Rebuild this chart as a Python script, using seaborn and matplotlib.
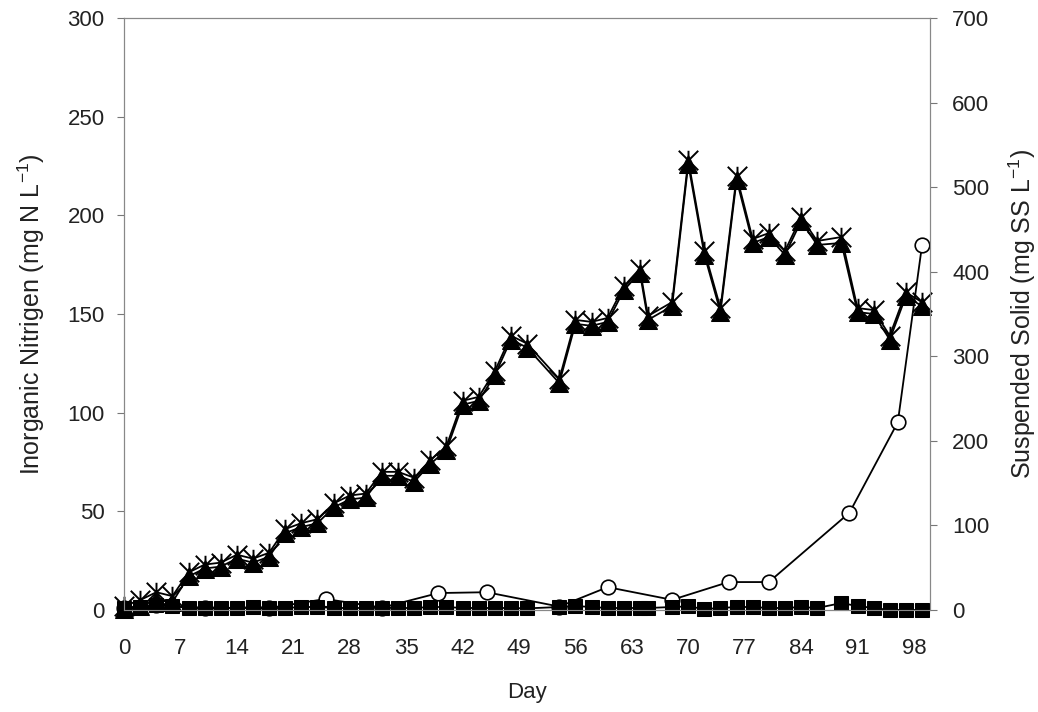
import numpy as np
import pandas as pd
import matplotlib
matplotlib.use("Agg")
import matplotlib.pyplot as plt
from matplotlib.path import Path
import seaborn as sns

# ---- data ----
days = [0, 2, 4, 6, 8, 10, 12, 14, 16, 18, 20, 22, 24, 26, 28, 30, 32, 34, 36, 38,
        40, 42, 44, 46, 48, 50, 54, 56, 58, 60, 62, 64, 65, 68, 70, 72, 74, 76, 78,
        80, 82, 84, 86, 89, 91, 93, 95, 97, 99]
triangle_n = [0.5, 2, 5, 4, 17, 21, 22, 26, 24, 27, 39, 42, 44, 52, 56, 57, 68, 68, 65, 74,
              81, 104, 106, 119, 137, 133, 115, 145, 144, 146, 162, 171, 147, 154, 226, 180, 151, 218, 186,
              189, 180, 197, 185, 186, 151, 150, 137, 159, 154]
star_n = [2, 5, 9, 7, 19, 23, 24, 28, 26, 29, 41, 44, 46, 54, 58, 59, 70, 70, 67, 76,
          83, 106, 108, 121, 139, 135, 117, 147, 146, 148, 164, 173, 149, 156, 228, 182, 153, 220, 188,
          191, 182, 199, 187, 189, 153, 152, 139, 161, 156]
square_n = [1, 1.5, 2.5, 2, 1, 1, 1.2, 1, 1.5, 1, 1, 1.5, 1.5, 1, 1, 1, 1.2, 1, 1, 1.5,
            1.5, 1, 1, 1, 1, 0.8, 1.5, 2, 1.5, 1, 1, 1, 1, 1.5, 1.8, 0.5, 1, 1.5, 1.5,
            1, 1, 1.5, 1, 3.5, 2, 1, 0, 0, 0]
ss_days = [0, 4, 10, 18, 25, 32, 39, 45, 54, 60, 68, 75, 80, 90, 96, 99]
ss_vals = [2.3, 5.8, 2.3, 2.3, 13, 2.8, 20, 21, 4, 27, 12, 33, 33, 115, 222, 431]

xticks = list(range(0, 99, 7))
yticks_left = [0, 50, 100, 150, 200, 250, 300]
yticks_right = [0, 100, 200, 300, 400, 500, 600, 700]

sns.set_theme(style="white")
plt.rcParams['font.family'] = ['Liberation Sans', 'DejaVu Sans']
plt.rcParams['mathtext.fontset'] = 'custom'
plt.rcParams['mathtext.rm'] = 'Liberation Sans'
plt.rcParams['mathtext.it'] = 'Liberation Sans:italic'
plt.rcParams['mathtext.default'] = 'regular'

fig = plt.figure(figsize=(10.38, 7.12), dpi=100)
ax = fig.add_axes([0.1195, 0.1433, 0.7765, 0.8314])
ax2 = ax.twinx()
ax.set_zorder(2)
ax2.set_zorder(1)
ax.patch.set_visible(False)

# star marker: X plus vertical line
star_path = Path([(-1, -1), (1, 1), (-1, 1), (1, -1), (0, -1), (0, 1)],
                 [Path.MOVETO, Path.LINETO, Path.MOVETO, Path.LINETO, Path.MOVETO, Path.LINETO])

df = pd.DataFrame({"day": days, "tri": triangle_n, "star": star_n, "sq": square_n})
dss = pd.DataFrame({"day": ss_days, "ss": ss_vals})

lw = 1.3
sns.lineplot(data=dss, x="day", y="ss", ax=ax2, color="black", lw=lw,
             marker="o", ms=10.5, mfc="white", mec="black", mew=1.2,
             estimator=None, sort=False, clip_on=False)
sns.lineplot(data=df, x="day", y="star", ax=ax, color="black", lw=lw,
             marker=star_path, ms=14, mec="black", mew=1.4,
             estimator=None, sort=False, clip_on=False)
sns.lineplot(data=df, x="day", y="tri", ax=ax, color="black", lw=lw,
             marker="^", ms=13, mfc="black", mec="black",
             estimator=None, sort=False, clip_on=False)
sns.lineplot(data=df, x="day", y="sq", ax=ax, color="black", lw=lw,
             marker="s", ms=10.5, mfc="black", mec="black",
             estimator=None, sort=False, clip_on=False)

ax.set_xlim(0, 100)
ax.set_ylim(0, 300)
ax2.set_ylim(0, 700)
ax.set_xticks(xticks)
ax.set_yticks(yticks_left)
ax2.set_yticks(yticks_right)

fs = 16
ax.tick_params(axis="y", labelsize=fs, colors="#222222", direction="out",
               length=5, width=0.8, color="#777777", pad=9)
ax.tick_params(axis="x", labelsize=fs, colors="#222222", direction="out",
               length=5, width=0.8, color="#777777", pad=15)
ax2.tick_params(axis="y", labelsize=fs, colors="#222222", direction="out",
                length=5, width=0.8, color="#777777", pad=11)
for a in (ax, ax2):
    for s in a.spines.values():
        s.set_color("#888888")
        s.set_linewidth(0.8)
    a.grid(False)

ax.set_xlabel("Day", fontsize=fs, color="#222222", labelpad=17)
ax.set_ylabel("Inorganic Nitrigen (mg N L$^{-1}$)", fontsize=18, color="#222222", labelpad=15)
ax2.set_ylabel("Suspended Solid (mg SS L$^{-1}$)", fontsize=18, color="#222222", labelpad=12)

fig.savefig("out.png", dpi=100, facecolor="white")
